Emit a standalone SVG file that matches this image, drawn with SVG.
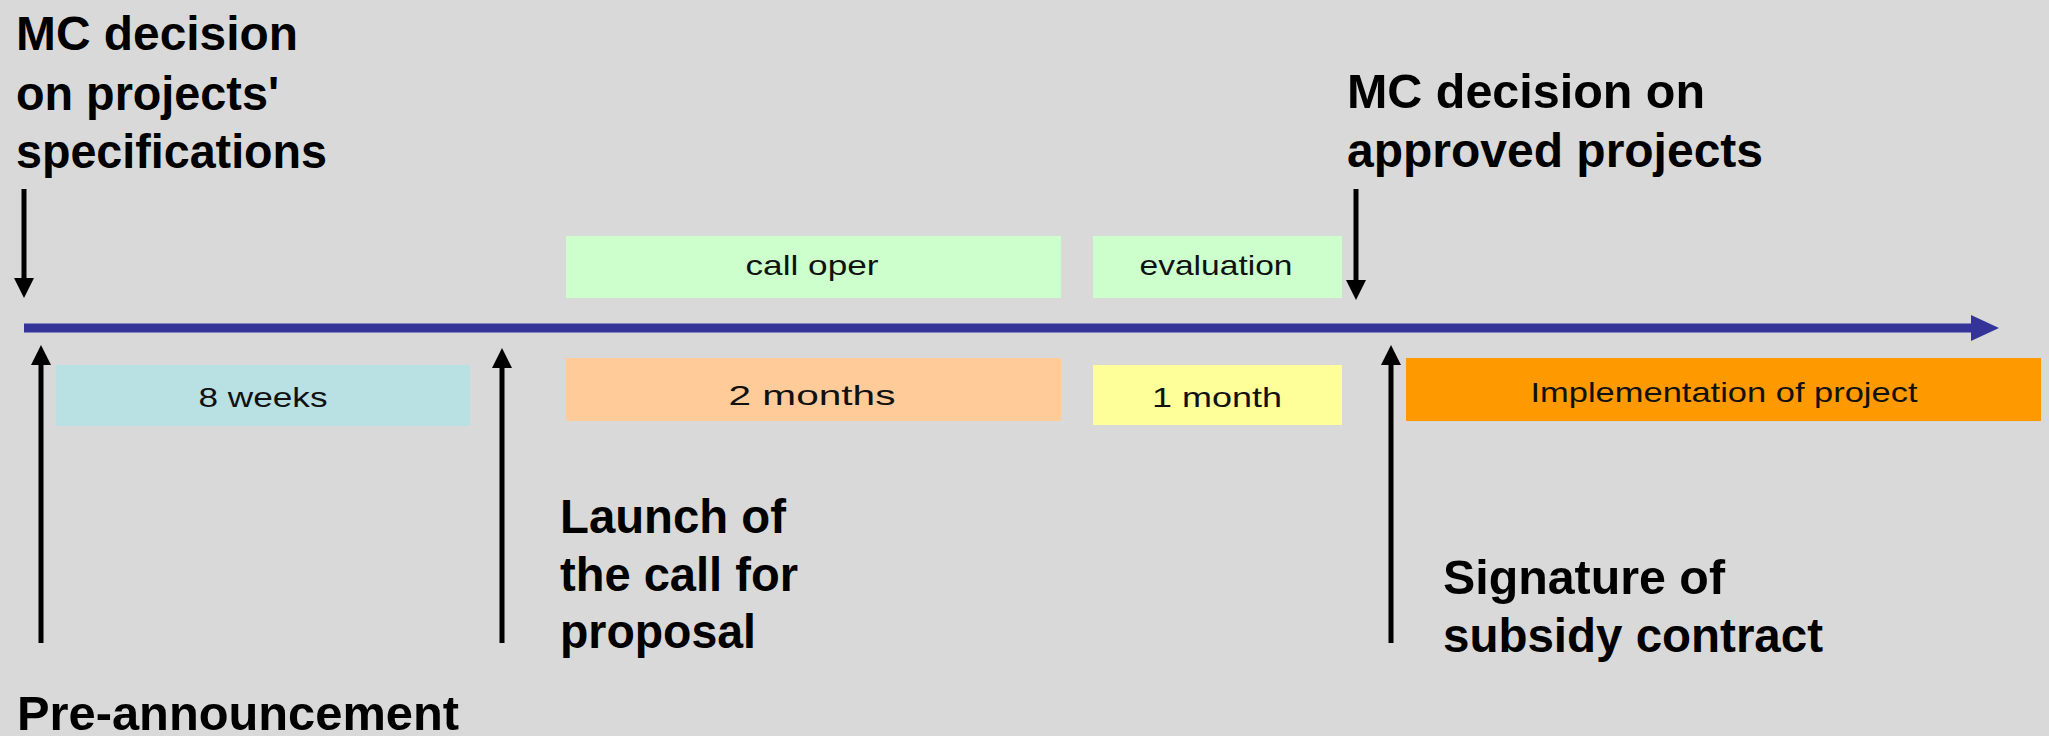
<svg xmlns="http://www.w3.org/2000/svg" width="2049" height="736" viewBox="0 0 2049 736">
<defs>
<marker id="ah" markerUnits="userSpaceOnUse" viewBox="0 0 20 20" markerWidth="20" markerHeight="20" refX="10" refY="10" orient="auto">
<path d="M0,0 L20,10 L0,20 z" fill="#000"/>
</marker>
<marker id="ahb" markerUnits="userSpaceOnUse" viewBox="0 0 28 26" markerWidth="28" markerHeight="26" refX="14" refY="13" orient="auto">
<path d="M0,0 L28,13 L0,26 z" fill="#333399"/>
</marker>
<style>
.lbl{font-family:"Liberation Sans",Arial,sans-serif;font-weight:bold;font-size:48px;fill:#000}
.sm{font-family:"Liberation Sans",Arial,sans-serif;font-size:28px;fill:#111;text-anchor:middle}
.arr{stroke:#000;stroke-width:5;fill:none;marker-end:url(#ah)}
</style>
</defs>
<rect x="0" y="0" width="2049" height="736" fill="#D9D9D9"/>

<g id="connectors">
<line x1="24" y1="328" x2="1985" y2="328" stroke="#333399" stroke-width="9" marker-end="url(#ahb)"/>
<line class="arr" x1="24" y1="189" x2="24" y2="288"/>
<line class="arr" x1="1356" y1="189" x2="1356" y2="290"/>
<line class="arr" x1="41" y1="643" x2="41" y2="355"/>
<line class="arr" x1="502" y1="643" x2="502" y2="358"/>
<line class="arr" x1="1391" y1="643" x2="1391" y2="355"/>
</g>

<g id="mc-decision-specs">
<text class="lbl" x="16" y="50" textLength="282" lengthAdjust="spacingAndGlyphs">MC decision</text>
<text class="lbl" x="16" y="110" textLength="263" lengthAdjust="spacingAndGlyphs">on projects'</text>
<text class="lbl" x="16" y="168" textLength="311" lengthAdjust="spacingAndGlyphs">specifications</text>
</g>

<g id="mc-decision-approved">
<text class="lbl" x="1347" y="108" textLength="358" lengthAdjust="spacingAndGlyphs">MC decision on</text>
<text class="lbl" x="1347" y="167" textLength="416" lengthAdjust="spacingAndGlyphs">approved projects</text>
</g>

<g id="call-open">
<rect x="566" y="236" width="495" height="62" fill="#CCFFCC"/>
<text class="sm" x="812" y="275" textLength="133" lengthAdjust="spacingAndGlyphs">call oper</text>
</g>

<g id="evaluation">
<rect x="1093" y="236" width="249" height="62" fill="#CCFFCC"/>
<text class="sm" x="1216" y="275" textLength="153" lengthAdjust="spacingAndGlyphs">evaluation</text>
</g>

<g id="weeks8">
<rect x="56" y="365" width="414" height="61" fill="#B9E0E3"/>
<text class="sm" x="263" y="407" textLength="129" lengthAdjust="spacingAndGlyphs">8 weeks</text>
</g>

<g id="months2">
<rect x="566" y="358" width="495" height="63" fill="#FFCC99"/>
<text class="sm" x="812" y="405" textLength="167" lengthAdjust="spacingAndGlyphs">2 months</text>
</g>

<g id="month1">
<rect x="1093" y="365" width="249" height="60" fill="#FFFF99"/>
<text class="sm" x="1217" y="407" textLength="130" lengthAdjust="spacingAndGlyphs">1 month</text>
</g>

<g id="implementation">
<rect x="1406" y="358" width="635" height="63" fill="#FF9900"/>
<text class="sm" x="1724" y="402" textLength="387" lengthAdjust="spacingAndGlyphs">Implementation of project</text>
</g>

<g id="launch">
<text class="lbl" x="560" y="533" textLength="226" lengthAdjust="spacingAndGlyphs">Launch of</text>
<text class="lbl" x="560" y="591" textLength="238" lengthAdjust="spacingAndGlyphs">the call for</text>
<text class="lbl" x="560" y="648" textLength="196" lengthAdjust="spacingAndGlyphs">proposal</text>
</g>

<g id="signature">
<text class="lbl" x="1443" y="594" textLength="282" lengthAdjust="spacingAndGlyphs">Signature of</text>
<text class="lbl" x="1443" y="652" textLength="380" lengthAdjust="spacingAndGlyphs">subsidy contract</text>
</g>

<g id="pre-announcement">
<text class="lbl" x="17" y="730" textLength="442" lengthAdjust="spacingAndGlyphs">Pre-announcement</text>
</g>
</svg>
